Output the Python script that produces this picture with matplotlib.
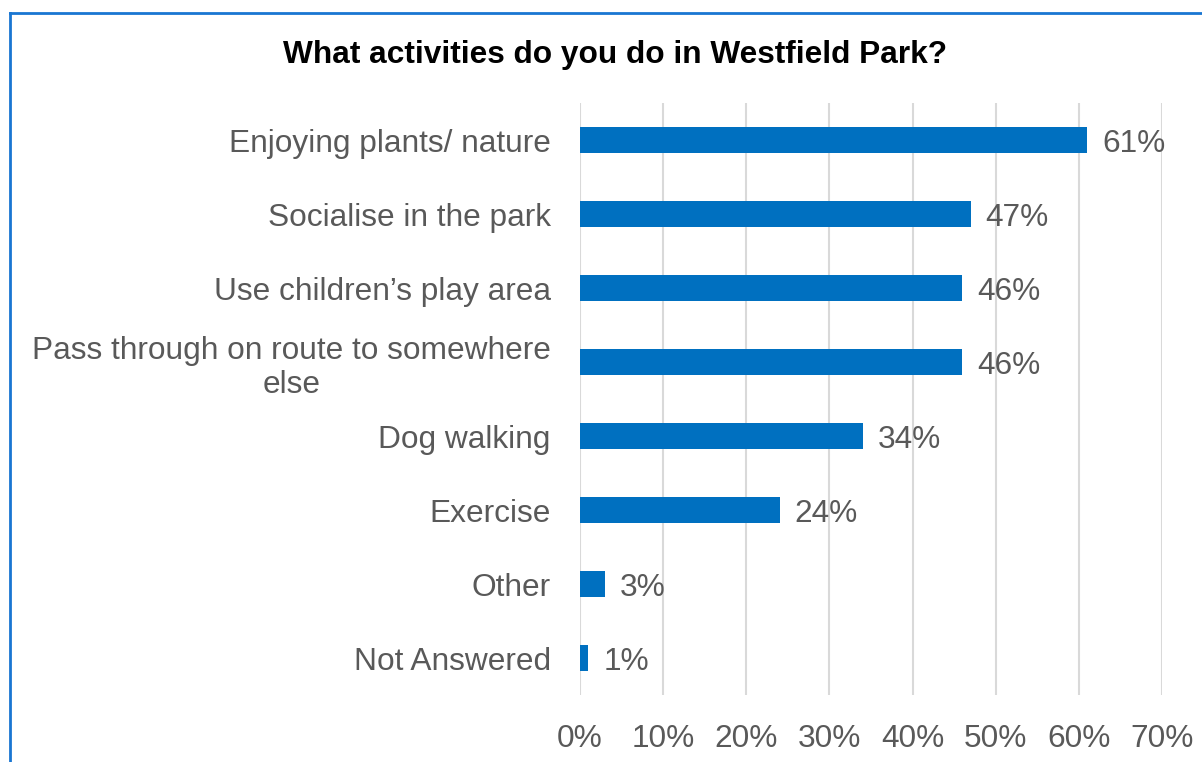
import matplotlib
matplotlib.use("Agg")
import matplotlib.pyplot as plt
from matplotlib.lines import Line2D

categories = ["Enjoying plants/ nature", "Socialise in the park", "Use children\u2019s play area",
              "Pass through on route to somewhere\nelse", "Dog walking", "Exercise", "Other",
              "Not Answered"]
values = [61, 47, 46, 46, 34, 24, 3, 1]
x_ticks = [0, 10, 20, 30, 40, 50, 60, 70]

BAR = "#0070C0"
TEXT = "#595959"
GRID = "#D9D9D9"

plt.rcParams['font.family'] = ['Liberation Sans', 'DejaVu Sans']

fig = plt.figure(figsize=(12.02, 7.62), dpi=100)
ax = fig.add_axes([0.4825, 0.0879, 0.4842, 0.7769])

ypos = list(range(len(categories)))
ax.barh(ypos, values, height=0.35, color=BAR, zorder=3)
for y, v in zip(ypos, values):
    ax.text(v + 1.8, y, f"{v}%", va="center_baseline", ha="left", fontsize=22.8, color=TEXT)

ax.set_xlim(0, 70)
ax.set_ylim(len(categories) - 0.5, -0.5)
ax.set_xticks(x_ticks)
ax.set_xticklabels([f"{t}%" for t in x_ticks], fontsize=22.8, color=TEXT)
ax.set_yticks(ypos)
ax.set_yticklabels(categories, fontsize=22.8, color=TEXT, multialignment="center", linespacing=1.2)
ax.tick_params(length=0, pad=21, axis="y")
ax.tick_params(length=0, pad=21, axis="x")
ax.grid(axis="x", color=GRID, linewidth=1.5, zorder=0)
for s in ax.spines.values():
    s.set_visible(False)

fig.text(0.512, 0.928, "What activities do you do in Westfield Park?", ha="center", va="center",
         fontsize=22.8, fontweight="bold", color="black")

# chart frame, only left and top edges visible
fig.add_artist(Line2D([10.5 / 1202, 10.5 / 1202], [0, 1 - 12.5 / 762], color="#1976D2", linewidth=2))
fig.add_artist(Line2D([10.5 / 1202, 1], [1 - 12.5 / 762, 1 - 12.5 / 762], color="#1976D2", linewidth=2))

fig.savefig("out.png", dpi=100)
